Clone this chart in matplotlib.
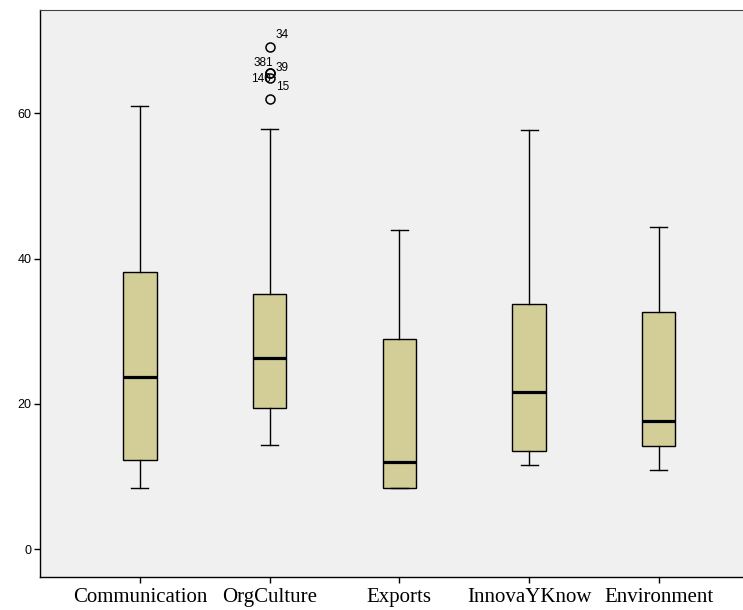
import matplotlib
matplotlib.use("Agg")
import matplotlib.pyplot as plt

categories = ["Communication", "OrgCulture", "Exports", "InnovaYKnow", "Environment"]
whisker_low = [8.4, 14.3, 8.4, 11.6, 10.9]
q1 = [12.3, 19.5, 8.4, 13.5, 14.2]
median = [23.7, 26.3, 12.0, 21.6, 17.7]
q3 = [38.2, 35.1, 28.9, 33.7, 32.6]
whisker_high = [61.0, 57.8, 44.0, 57.7, 44.4]

# outliers of OrgCulture (case numbers as labels)
outlier_values = [69.1, 65.6, 65.6, 64.9, 62.0]
outlier_labels = ["34", "381", "39", "140", "15"]
yticks = [0, 20, 40, 60]

stats = []
for i in range(len(categories)):
    stats.append({
        "label": categories[i],
        "whislo": whisker_low[i],
        "q1": q1[i],
        "med": median[i],
        "q3": q3[i],
        "whishi": whisker_high[i],
        "fliers": outlier_values if categories[i] == "OrgCulture" else [],
    })

fig = plt.figure(figsize=(7.43, 6.10), dpi=100)
ax = fig.add_axes([40 / 743, 33 / 610, 703 / 743, 567 / 610])
ax.set_facecolor("#F0F0F0")

ax.bxp(stats, positions=range(1, 6), widths=0.257, capwidths=0.13,
       patch_artist=True,
       boxprops=dict(facecolor="#D3CE97", edgecolor="black", linewidth=1.0),
       medianprops=dict(color="black", linewidth=2.3, solid_capstyle="butt"),
       whiskerprops=dict(color="black", linewidth=1.0),
       capprops=dict(color="black", linewidth=1.0),
       flierprops=dict(marker="o", markerfacecolor="none", markeredgecolor="black",
                       markersize=6.5, markeredgewidth=1.1))

# label positions in pixels relative to the point
offsets = {"34": (6, 12, "left"), "381": (4, 10, "right"), "39": (6, 5, "left"),
           "140": (1, -1, "right"), "15": (6, 12, "left")}
org = categories.index("OrgCulture") + 1
for v, lab in zip(outlier_values, outlier_labels):
    dx, dy, ha = offsets[lab]
    ax.annotate(lab, (org, v), xytext=(dx * 0.72, dy * 0.72), textcoords="offset points",
                ha=ha, va="center", fontsize=8.5, family="Liberation Sans")

ax.set_xlim(0.23, 5.649)
ax.set_ylim(-3.81, 74.2)
ax.set_yticks(yticks)
ax.set_yticklabels([str(t) for t in yticks], fontsize=9, family="Liberation Sans")
ax.set_xticks(range(1, 6))
ax.set_xticklabels(categories, fontsize=15, family="Liberation Serif")
ax.tick_params(direction="out", length=4, width=1, color="black", pad=2)
ax.tick_params(axis="x", pad=4)

ax.spines["right"].set_visible(False)
ax.spines["top"].set_color("#444444")
for s in ["left", "bottom"]:
    ax.spines[s].set_color("black")
    ax.spines[s].set_linewidth(1.0)

fig.savefig("out.png", dpi=100)
